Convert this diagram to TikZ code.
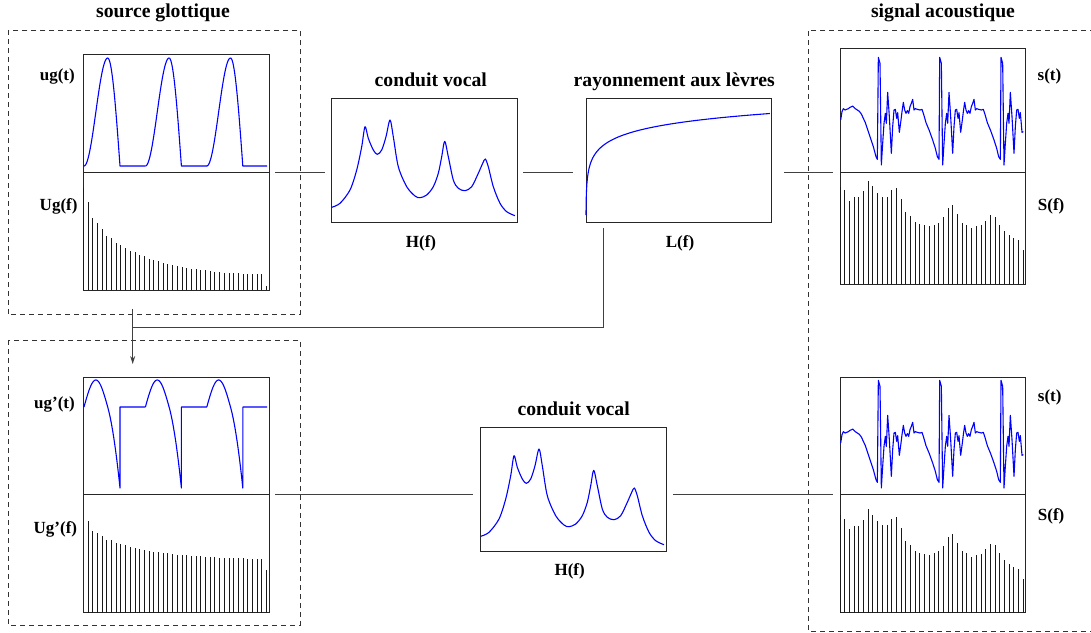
\documentclass[tikz,border=0pt]{standalone}
\usepackage{fontspec}
\setmainfont{Liberation Serif}
\usetikzlibrary{arrows.meta}
\newcommand\sperhead[1]{-- (#1,172) -- ({#1+5},190) -- ({#1+9},495) -- ({#1+13},430) -- ({#1+17},370) -- ({#1+21},340) -- ({#1+24},370) -- ({#1+28},277) -- ({#1+33},350) -- ({#1+39},460) -- ({#1+43},380) -- ({#1+47},330) -- ({#1+51},328) -- ({#1+55},355) -- ({#1+58},338) -- ({#1+63},397)}
\newcommand\spertail[1]{-- ({#1+68},360) -- ({#1+71},335) -- ({#1+75},307) -- ({#1+79},330) -- ({#1+83},340) -- ({#1+87},332) -- ({#1+91},340) -- ({#1+95},320) -- ({#1+99},310) -- ({#1+103},298) -- ({#1+107},330) -- ({#1+111},326) -- ({#1+117},328) -- ({#1+125},330) -- ({#1+131},328) -- ({#1+135},340) -- ({#1+143},368) -- ({#1+153},392) -- ({#1+163},420) -- ({#1+171},445) -- ({#1+177},470) -- ({#1+182},478)}
\newcommand\stwave{(122,360) -- (126,335) -- (130,326) -- (135,330) -- (140,328) -- (145,326) -- (150,322) -- (155,320) -- (158,318) -- (162,322) -- (166,326) -- (172,330) -- (178,334) -- (184,342) -- (190,355) -- (196,368) -- (200,380) -- (205,395) -- (210,410) -- (215,425) -- (220,440) -- (224,455) -- (228,470) -- (232,478) \sperhead{235}\spertail{235}\sperhead{419}\spertail{419}\sperhead{603} -- (670,395)}
\newcommand\Hcoords{(0.7,109.3) (9,105.3) (19,92) (25.7,72) (30.7,48.7) (34,28.7) (37.3,40.3) (42.3,52) (46.3,56.3) (50.7,52) (55,38.7) (59,22) (62.3,38.7) (67.3,68.7) (75.7,88.7) (84,98) (89,99.7) (95.7,97) (102.3,88.7) (107.3,75.3) (110.7,58.7) (113.7,43.3) (117.3,58.7) (122.3,82) (127.3,90.3) (134,92.7) (140.7,88.7) (147.3,75.3) (151.7,65.3) (154.3,61) (157.3,68.7) (162.3,88.7) (169,105.3) (175.7,113.7) (184,117.7)}
\begin{document}
\begin{tikzpicture}[x=1pt,y=-1pt,
  box/.style={draw=black!85, line width=0.9pt, inner sep=0pt, outer sep=0pt, anchor=north west, minimum width=186pt},
  sig/.style={blue, line width=1.1pt, line join=round},
  spec/.style={black!90, line width=1pt},
  conn/.style={black!75, line width=0.9pt},
  dbox/.style={black!80, line width=0.8pt, dash pattern=on 5pt off 4pt},
  ttl/.style={font=\fontsize{19.7}{22}\selectfont\bfseries, inner sep=0pt, anchor=base},
  lab/.style={font=\fontsize{17}{20}\selectfont\bfseries, inner sep=0pt}]
\useasboundingbox (0,0) rectangle (1091,632);

% dashed groups
\draw[dbox] (8,30) rectangle (300,314.7);
\draw[dbox] (8,340) rectangle (300,625);
\draw[dbox] (1095,30) -- (808,30) -- (808,631) -- (1095,631);

% boxes
\node[box, minimum height=118pt] (ug) at (83.3,54.3) {};
\node[box, minimum height=117.7pt] (Ug) at (83.3,172.3) {};
\node[box, minimum height=124pt] (H1) at (331,98) {};
\node[box, minimum width=185pt, minimum height=124pt] (L1) at (586,98) {};
\node[box, minimum width=185.7pt, minimum height=123.6pt] (st1) at (840,48.7) {};
\node[box, minimum width=185.7pt, minimum height=111.7pt] (Sf1) at (840,172.3) {};
\node[box, minimum height=117.4pt] (ugp) at (83.3,377.3) {};
\node[box, minimum height=118pt] (Ugp) at (83.3,494.7) {};
\node[box, minimum height=124pt] (H2) at (480,427) {};
\node[box, minimum width=185.7pt, minimum height=116.6pt] (st2) at (840,377.7) {};
\node[box, minimum width=185.7pt, minimum height=118.4pt] (Sf2) at (840,494.3) {};

% glottal flow
\foreach \k in {0,1,2}{
  \pgfmathsetmacro\xo{84+61.4*\k}
  \pgfmathsetmacro\xe{min(\xo+61.4,267)}
  \draw[sig] plot[domain=0:23.7,samples=40,variable=\t] ({\xo+\t},{166-54*(1-cos(180*\t/23.7))})
     -- plot[domain=0:12.3,samples=25,variable=\t] ({\xo+23.7+\t},{166-108*cos(90*\t/12.3)})
     -- (\xe,166);
  \draw[sig] plot[domain=0:23.7,samples=40,variable=\t] ({\xo+\t},{407-27*sin(180*\t/23.7)})
     -- plot[domain=0:12.3,samples=25,variable=\t] ({\xo+23.7+\t},{407+3.58*\t+0.2445*\t*\t})
     -- ({\xo+36},407) -- (\xe,407);
}

% spectra
\foreach \h [count=\k from 0] in {101.7,88.3,72.3,66.7,60.7,54,52,46.7,44.7,41.7,39.3,38,34.7,34,31.3,30,29.3,26.7,26,25,24,23.3,22,21.3,20.7,20,19.7,19,18.3,18,17.3,17,16.7,16.7,16.3,16,16,15.7,15.7,4}
  \draw[spec] ({83.3+4.7*\k},290) -- ++(0,-\h);
\foreach \h [count=\k from 1] in {91.7,82,79.3,76.7,72.7,72.3,69.3,68.3,67.3,65.3,65,63.3,62.7,62,61,60.7,59.7,59.3,59,58,57.7,57.3,57,56.7,56.3,56,55.7,55.3,55,54.7,54.7,54.3,54.3,54.3,54,54,54,53.7,42.7}
  \draw[spec] ({83.3+4.7*\k},612.7) -- ++(0,-\h);
\foreach \h [count=\k from 0] in {97.3,94,83.3,86.7,86.7,92.7,103.3,98,91.3,87.3,87.3,94,96,84.7,72,68,62,60,58.7,58,59.3,61.3,66.7,75.7,79,70,61.3,59.3,56,58,58.7,63.3,69,67.3,59.3,53,48.7,46,44,34}{
  \draw[spec] ({840+4.7*\k},284) -- ++(0,-\h);
  \draw[spec] ({840+4.7*\k},612.7) -- ++(0,-\h);
}

% vocal tract
\draw[sig, shift={(331,98)}] plot[smooth, tension=0.5] coordinates {\Hcoords};
\draw[sig, shift={(480,427)}] plot[smooth, tension=0.5] coordinates {\Hcoords};

% lip radiation
\draw[sig] plot[domain=0:1, samples=150, variable=\t] ({586+185*\t^3},{215-13.5*ln(1+185*\t^3/0.1)});

% speech signal
\begin{scope}[shift={(800,0)}, xscale=1/3, yscale=1/3]
  \draw[sig] \stwave;
\end{scope}
\begin{scope}[shift={(800,323)}, xscale=1/3, yscale=1/3]
  \draw[sig] \stwave;
\end{scope}

% connectors
\draw[conn, shorten <=6pt, shorten >=6pt] (Ug.north east) -- (Ug.north east -| H1.west);
\draw[conn, shorten <=6pt, shorten >=13pt] (H1.east |- Sf1.north) -- (L1.west |- Sf1.north);
\draw[conn, shorten <=13pt, shorten >=7pt] (L1.east |- Sf1.north) -- (Sf1.north west);
\draw[conn, shorten <=6pt, shorten >=7pt] (Ugp.north east) -- (Ugp.north east -| H2.west);
\draw[conn, shorten <=7pt, shorten >=7pt] (H2.east |- Sf2.north) -- (Sf2.north west);
\coordinate (fbcorner) at (132.7,327.7);
\coordinate (arrstart) at (132.7,309);
\draw[conn, shorten <=6pt] ([xshift=17.3pt]L1.south west) |- (fbcorner);
\draw[conn, -{Stealth[length=8pt,width=5pt]}, shorten >=13.3pt] (arrstart) -- (arrstart |- ugp.north);

% labels
\node[lab, anchor=base east] (lug) at (75,80) {ug(t)};
\node[lab, anchor=base east] (lUg) at (77.7,210.7) {Ug(f)};
\node[lab, anchor=base east] (lugp) at (75,408.3) {ug'(t)};
\node[lab, anchor=base east] (lUgp) at (77.3,533.3) {Ug'(f)};
\node[lab, anchor=base west] (lst1) at (1037.5,80) {s(t)};
\node[lab, anchor=base west] (lSf1) at (1037.7,210) {S(f)};
\node[lab, anchor=base west] (lst2) at (1037.7,401.7) {s(t)};
\node[lab, anchor=base west] (lSf2) at (1037.7,520.7) {S(f)};

\node[ttl] (tsrc) at (163,17.3) {source glottique};
\node[ttl] (tsig) at (943,17.3) {signal acoustique};
\node[ttl] (tcv1) at (430.8,86) {conduit vocal};
\node[ttl] (tray) at (674.2,86) {rayonnement aux lèvres};
\node[ttl] (tcv2) at (573.7,415) {conduit vocal};
\node[lab, anchor=base] (tH1) at (421,247) {H(f)};
\node[lab, anchor=base] (tL1) at (680,247) {L(f)};
\node[lab, anchor=base] (tH2) at (569.7,575.7) {H(f)};
\end{tikzpicture}
\end{document}
